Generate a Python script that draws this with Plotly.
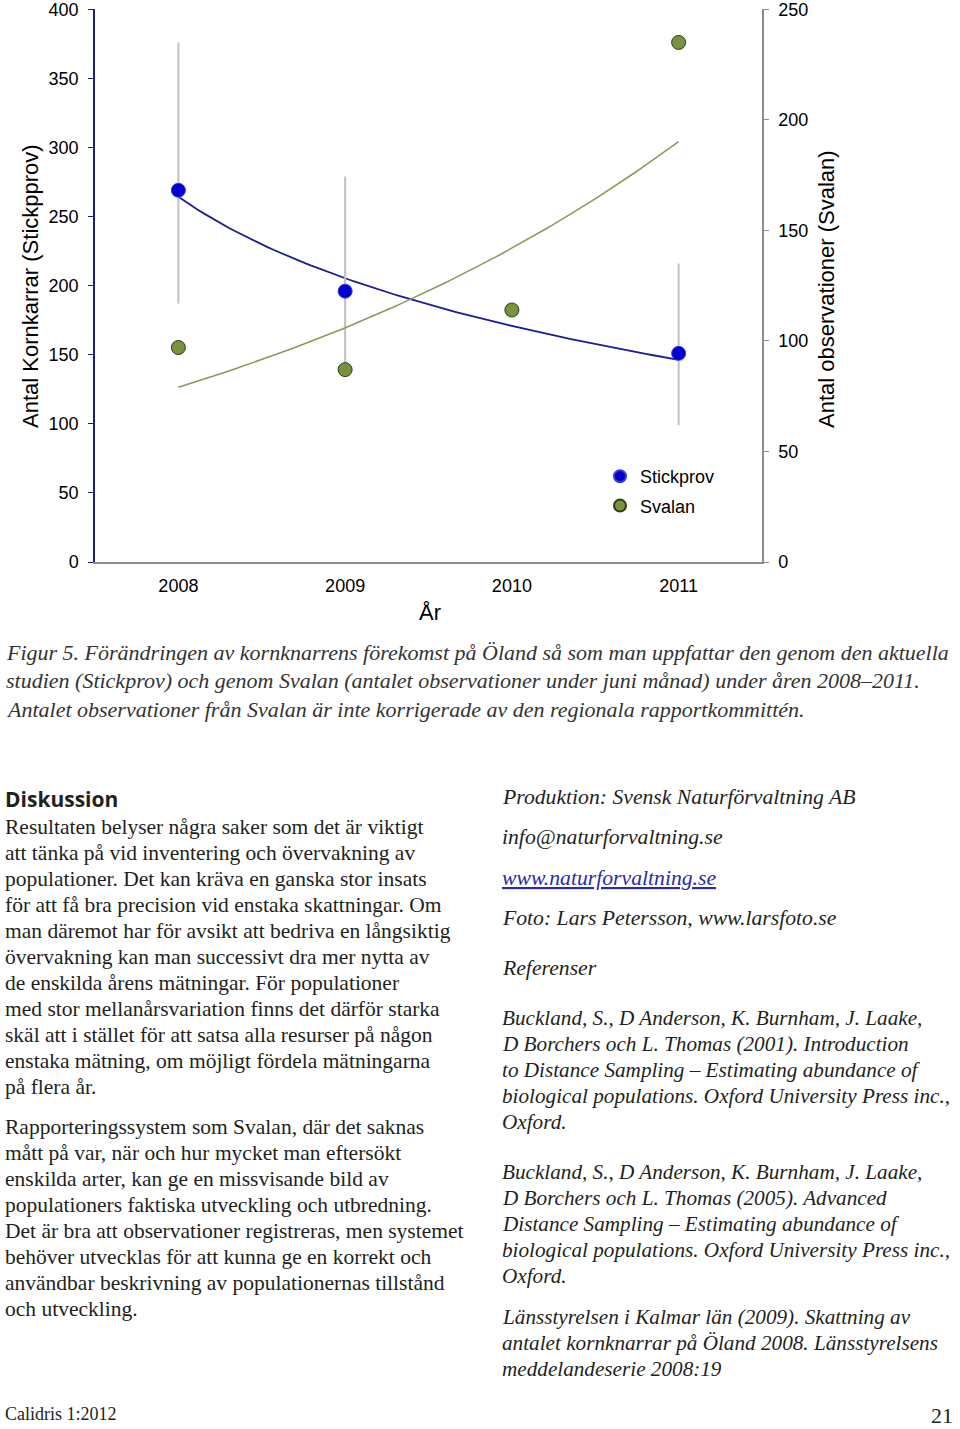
import numpy as np
import plotly.graph_objects as go

# --- chart data ---
years = [2008, 2009, 2010, 2011]
stickprov = [269, 196, None, 151]
stickprov_upper = [376, 279, None, 216]
stickprov_lower = [187, 140, None, 99]
svalan = [97, 87, 114, 235]

left_ticks = [0, 50, 100, 150, 200, 250, 300, 350, 400]
right_ticks = [0, 50, 100, 150, 200, 250]

# --- page text ---
caption_lines = [
    "Figur 5. Förändringen av kornknarrens förekomst på Öland så som man uppfattar den genom den aktuella",
    "studien (Stickprov) och genom Svalan (antalet observationer under juni månad) under åren 2008–2011.",
    "Antalet observationer från Svalan är inte korrigerade av den regionala rapportkommittén.",
]
para1 = [
    "Resultaten belyser några saker som det är viktigt",
    "att tänka på vid inventering och övervakning av",
    "populationer. Det kan kräva en ganska stor insats",
    "för att få bra precision vid enstaka skattningar. Om",
    "man däremot har för avsikt att bedriva en långsiktig",
    "övervakning kan man successivt dra mer nytta av",
    "de enskilda årens mätningar. För populationer",
    "med stor mellanårsvariation finns det därför starka",
    "skäl att i stället för att satsa alla resurser på någon",
    "enstaka mätning, om möjligt fördela mätningarna",
    "på flera år.",
]
para2 = [
    "Rapporteringssystem som Svalan, där det saknas",
    "mått på var, när och hur mycket man eftersökt",
    "enskilda arter, kan ge en missvisande bild av",
    "populationers faktiska utveckling och utbredning.",
    "Det är bra att observationer registreras, men systemet",
    "behöver utvecklas för att kunna ge en korrekt och",
    "användbar beskrivning av populationernas tillstånd",
    "och utveckling.",
]
credits = [
    "Produktion: Svensk Naturförvaltning AB",
    "info@naturforvaltning.se",
    "<u>www.naturforvaltning.se</u>",
    "Foto: Lars Petersson, www.larsfoto.se",
    "Referenser",
]
refs = [
    ["Buckland, S., D Anderson, K. Burnham, J. Laake,",
     "D Borchers och L. Thomas (2001). Introduction",
     "to Distance Sampling – Estimating abundance of",
     "biological populations. Oxford University Press inc.,",
     "Oxford."],
    ["Buckland, S., D Anderson, K. Burnham, J. Laake,",
     "D Borchers och L. Thomas (2005). Advanced",
     "Distance Sampling – Estimating abundance of",
     "biological populations. Oxford University Press inc.,",
     "Oxford."],
    ["Länsstyrelsen i Kalmar län (2009). Skattning av",
     "antalet kornknarrar på Öland 2008. Länsstyrelsens",
     "meddelandeserie 2008:19"],
]

# --- trend lines fitted from the data (Excel-style log / exponential trends) ---
t = np.array(years) - 2007
st_x = [y for y, v in zip(years, stickprov) if v is not None]
st_y = [v for v in stickprov if v is not None]
st_up = [u - v for u, v in zip(stickprov_upper, stickprov) if v is not None]
st_dn = [v - l for l, v in zip(stickprov_lower, stickprov) if v is not None]
b_log, a_log = np.polyfit(np.log(np.array(st_x) - 2007), st_y, 1)
k_exp, c_exp = np.polyfit(t, np.log(svalan), 1)
xs = np.linspace(1, 4, 80)
blue_trend = a_log + b_log * np.log(xs)
green_trend = np.exp(c_exp + k_exp * xs)

# plot area in page pixels
L, R, T, B = 95, 762, 9, 562
PW, PH = R - L, B - T


def px(x, y):
    return (x - L) / PW, (B - y) / PH


SANS = "Liberation Sans"
SERIF = "Liberation Serif"
TXT = "#231f20"

fig = go.Figure()
fig.add_trace(go.Scatter(x=xs + 2007, y=blue_trend, mode="lines",
                         line=dict(color="#1c1c96", width=1.8), showlegend=False, hoverinfo="skip"))
fig.add_trace(go.Scatter(x=xs + 2007, y=green_trend, mode="lines", yaxis="y2",
                         line=dict(color="#8a9a5b", width=1.6), showlegend=False, hoverinfo="skip"))
fig.add_trace(go.Scatter(x=st_x, y=st_y, mode="markers", name="Stickprov", legendgroup="a",
                         marker=dict(color="#0000cc", size=14, line=dict(color="#3a3ae0", width=1)),
                         error_y=dict(type="data", symmetric=False, array=st_up, arrayminus=st_dn,
                                      color="#c0c0c0", thickness=2, width=0)))
fig.add_trace(go.Scatter(x=years, y=svalan, mode="markers", name="Svalan", yaxis="y2", legendgroup="b",
                         marker=dict(color="#77933c", size=14, line=dict(color="#2f3a17", width=1))))

ann = []


def add_text(x, y, text, size, family=SERIF, color=TXT, italic=False, anchor="left", angle=0):
    ax, ay = px(x, y)
    f = dict(family=family, size=size, color=color)
    if italic:
        f["style"] = "italic"
    ann.append(dict(x=ax, y=ay, xref="paper", yref="paper", text=text, showarrow=False,
                    xanchor=anchor, yanchor="middle", font=f, textangle=angle))


# axis titles
add_text(30, 286, "Antal Kornkarrar (Stickpprov)", 22, family=SANS, color="#000", anchor="center", angle=-90)
add_text(826, 289, "Antal observationer (Svalan)", 22, family=SANS, color="#000", anchor="center", angle=-90)
add_text(430, 612, "År", 22, family=SANS, color="#000", anchor="center")

# caption
for i, line in enumerate(caption_lines):
    add_text(4, 652 + i * 28.5, line, 22, color="#333", italic=True)

# left column
add_text(3, 799, "<b>Diskussion</b>", 21, family="Open Sans", color=TXT)
for i, line in enumerate(para1):
    add_text(3, 827 + i * 26, line, 21.5)
for i, line in enumerate(para2):
    add_text(3, 1127 + i * 26, line, 21.5)

# right column
credit_y = [797, 837, 878, 918, 968]
for y, line in zip(credit_y, credits):
    col = "#2a2aa8" if "<u>" in line else TXT
    add_text(500, y, line, 21.7, color=col, italic=True)
ref_start = [1018, 1172, 1317]
for y0, block in zip(ref_start, refs):
    for i, line in enumerate(block):
        add_text(500, y0 + i * 26, line, 21.2, italic=True)

add_text(3, 1414, "Calidris 1:2012", 18)
add_text(955, 1415, "21", 22, anchor="right")

fig.update_layout(
    width=960, height=1429,
    margin=dict(l=L, r=960 - R, t=T, b=1429 - B),
    template="none",
    paper_bgcolor="white", plot_bgcolor="white",
    font=dict(family=SANS, size=18, color="#000"),
    xaxis=dict(range=[2007.5, 2011.5], tickvals=years, showgrid=False, zeroline=False,
               showline=True, linecolor="#8c8c8c", linewidth=1.5, ticks="",
               ticklabelstandoff=7, tickfont=dict(size=18)),
    yaxis=dict(range=[0, 400.2], tickvals=left_ticks, showgrid=False, zeroline=False,
               showline=True, linecolor="#1c1c7a", linewidth=1.5, ticks="outside",
               ticklen=5, tickcolor="#1c1c7a", ticklabelstandoff=6, tickfont=dict(size=18),
               ticklabeloverflow="allow"),
    yaxis2=dict(range=[0, 250.125], tickvals=right_ticks, overlaying="y", side="right",
                showgrid=False, zeroline=False, showline=True, linecolor="#8c8c8c",
                linewidth=1.5, ticks="outside", ticklen=5, tickcolor="#8c8c8c",
                ticklabelstandoff=6, tickfont=dict(size=18), ticklabeloverflow="allow"),
    legend=dict(x=(600 - L) / PW, y=(B - 458) / PH, xanchor="left", yanchor="top",
                bgcolor="rgba(0,0,0,0)", font=dict(size=18, family=SANS),
                traceorder="grouped", tracegroupgap=3, itemwidth=30, itemsizing="constant"),
    annotations=ann,
)

fig.write_html("out.html", config={"displayModeBar": False},
               post_script="document.body.style.margin='0';")
